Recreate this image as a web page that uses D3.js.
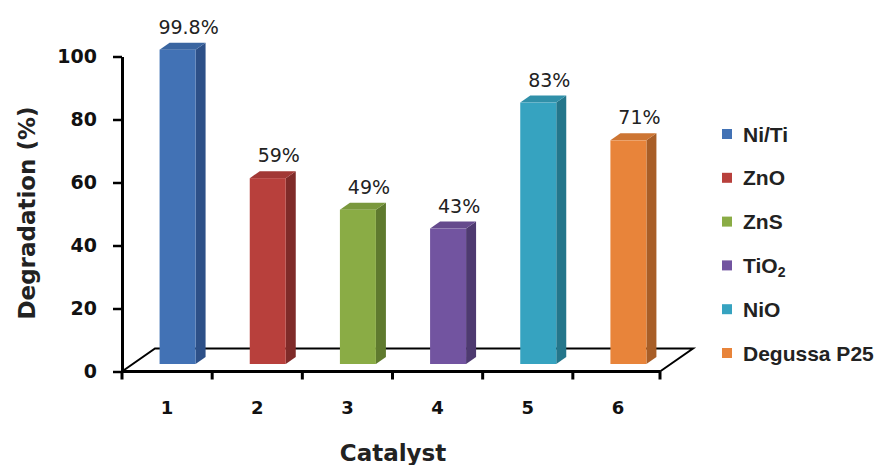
<!DOCTYPE html>
<html>
<head>
<meta charset="utf-8">
<script src="https://cdn.jsdelivr.net/npm/d3@7"></script>
<style>
  body { margin: 0; background: #fff; }
</style>
</head>
<body>
<script>
const categories = ["1", "2", "3", "4", "5", "6"];
const catalysts = ["Ni/Ti", "ZnO", "ZnS", "TiO2", "NiO", "Degussa P25"];
const degradation = [99.8, 59, 49, 43, 83, 71];
const valueLabels = ["99.8%", "59%", "49%", "43%", "83%", "71%"];
const yTicks = [0, 20, 40, 60, 80, 100];

const frontColors = ["#4272b5", "#b8403c", "#8aac45", "#7254a0", "#36a3c0", "#e8843a"];
const sideColors  = ["#2d5088", "#7f2b29", "#5f7a2e", "#4e3a70", "#24768b", "#a85e27"];

function main(){
    const width = 887, height = 465;

    const svg = d3.select("body").append("svg")
        .attr("width", width)
        .attr("height", height);

    const x = d3.scaleBand().domain(categories).range([122, 663]);
    const y = d3.scaleLinear().domain([0, 100]).range([371.5, 56.5]);

    // floor depth and bar offsets (fake 3d)
    const floorDx = 33, floorDy = -23;
    const offX = 10.5, offY = -7.5;
    const depDx = 10, depDy = -7;
    const barW = 36;

    // floor outline
    const x0 = x.range()[0], x1 = x.range()[1] - 3, y0 = y(0);
    svg.append("path")
        .attr("d", `M${x0},${y0} L${x0 + floorDx},${y0 + floorDy} L${x1 + floorDx},${y0 + floorDy} L${x1},${y0}`)
        .attr("fill", "none")
        .attr("stroke", "#000")
        .attr("stroke-width", 2);

    // bars
    const bars = svg.append("g");
    categories.forEach((c, i) => {
        const bx0 = x(c) + offX + (x.bandwidth() - barW) / 2;
        const bx1 = bx0 + barW;
        const top = y(degradation[i]) + offY;
        const bot = y(0) + offY;
        bars.append("polygon")
            .attr("points", [[bx1, top], [bx1 + depDx, top + depDy], [bx1 + depDx, bot + depDy], [bx1, bot]].join(" "))
            .attr("fill", sideColors[i]);
        bars.append("polygon")
            .attr("points", [[bx0, top], [bx1, top], [bx1 + depDx, top + depDy], [bx0 + depDx, top + depDy]].join(" "))
            .attr("fill", d3.color(frontColors[i]).darker(0.35));
        bars.append("rect")
            .attr("x", bx0)
            .attr("y", top)
            .attr("width", barW)
            .attr("height", bot - top)
            .attr("fill", frontColors[i]);
        bars.append("text")
            .attr("x", (bx0 + bx1) / 2 + depDx + 1)
            .attr("y", top + depDy - 9)
            .attr("text-anchor", "middle")
            .attr("font-family", "DejaVu Sans")
            .attr("font-size", "19px")
            .attr("fill", "#222")
            .text(valueLabels[i]);
    });

    // front x axis line + ticks
    const xAxis = svg.append("g");
    xAxis.append("line")
        .attr("x1", x0).attr("x2", x1)
        .attr("y1", y0).attr("y2", y0)
        .attr("stroke", "#000").attr("stroke-width", 3);
    const edges = categories.map(c => x(c)).concat([x1]);
    xAxis.selectAll(".xt").data(edges).join("line")
        .attr("x1", d => d).attr("x2", d => d)
        .attr("y1", y0).attr("y2", y0 + 8)
        .attr("stroke", "#000").attr("stroke-width", 3);
    xAxis.selectAll(".xl").data(categories).join("text")
        .attr("x", d => x(d) + x.bandwidth() / 2)
        .attr("y", 414)
        .attr("text-anchor", "middle")
        .attr("font-family", "DejaVu Sans")
        .attr("font-weight", "bold")
        .attr("font-size", "18px")
        .attr("fill", "#111")
        .text(d => d);

    // y axis
    const yAxis = svg.append("g")
        .attr("transform", `translate(${x0},0)`)
        .call(d3.axisLeft(y).tickValues(yTicks).tickSize(9).tickSizeOuter(0).tickPadding(16));
    yAxis.select(".domain").attr("stroke-width", 3);
    yAxis.selectAll(".tick line").attr("stroke-width", 2.5);
    yAxis.selectAll(".tick text")
        .attr("font-family", "DejaVu Sans")
        .attr("font-weight", "bold")
        .attr("font-size", "19px")
        .attr("fill", "#111");

    // axis titles
    svg.append("text")
        .attr("transform", "translate(35,213) rotate(-90)")
        .attr("text-anchor", "middle")
        .attr("font-family", "DejaVu Sans")
        .attr("font-weight", "bold")
        .attr("font-size", "23px")
        .attr("fill", "#222")
        .text("Degradation (%)");

    svg.append("text")
        .attr("x", 393)
        .attr("y", 461)
        .attr("text-anchor", "middle")
        .attr("font-family", "DejaVu Sans")
        .attr("font-weight", "bold")
        .attr("font-size", "23px")
        .attr("fill", "#222")
        .text("Catalyst");

    // legend
    const legend = svg.append("g");
    catalysts.forEach((name, i) => {
        const ly = 134 + i * 43.8;
        legend.append("rect")
            .attr("x", 722).attr("y", ly - 5)
            .attr("width", 10).attr("height", 10)
            .attr("fill", frontColors[i]);
        const t = legend.append("text")
            .attr("x", 743).attr("y", ly + 7.5)
            .attr("font-family", "Liberation Sans")
            .attr("font-weight", "bold")
            .attr("font-size", "21px")
            .attr("fill", "#222");
        if (name === "TiO2") {
            t.append("tspan").text("TiO");
            t.append("tspan").attr("font-size", "14px").attr("dy", 4).text("2");
        } else {
            t.text(name);
        }
    });
}
main();
</script>
</body>
</html>
